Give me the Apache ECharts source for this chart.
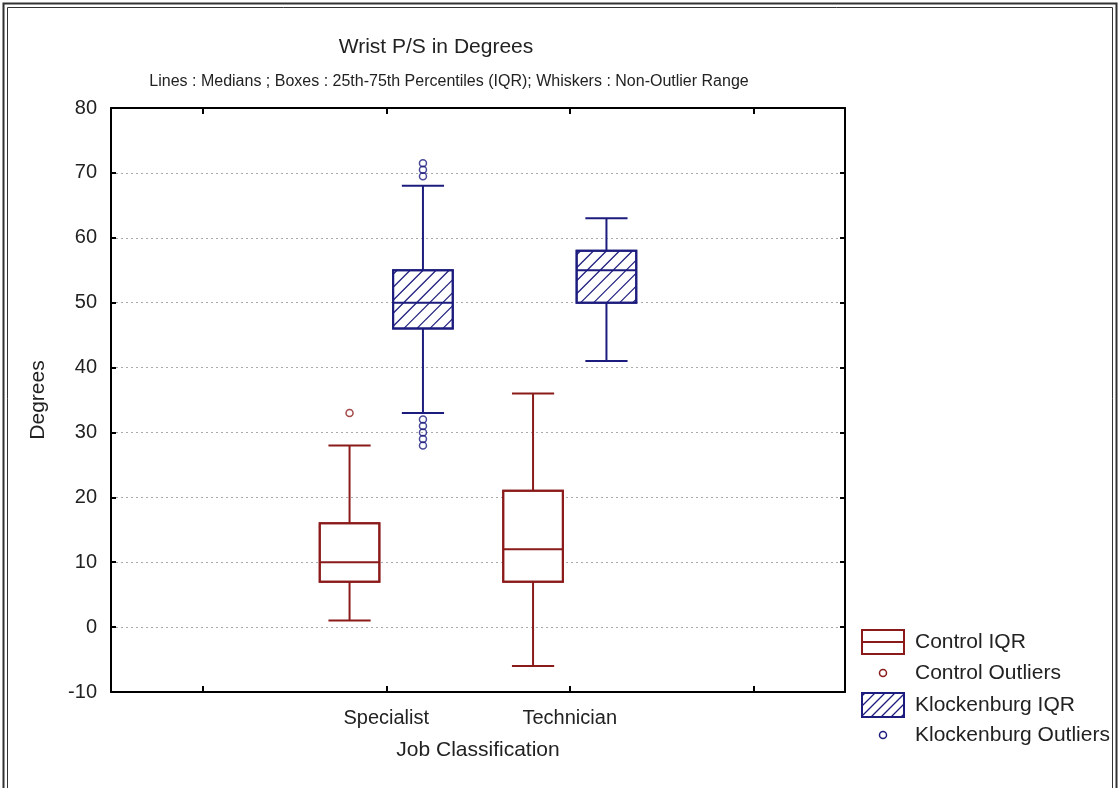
<!DOCTYPE html>
<html>
<head>
<meta charset="utf-8">
<script src="https://cdn.jsdelivr.net/npm/echarts@6/dist/echarts.min.js"></script>
<style>
  html, body { margin: 0; padding: 0; background: #fff; }
  #chart { width: 1120px; height: 788px; }
</style>
</head>
<body>
<div id="chart"></div>
<script>
// ---------------- data ----------------
const categories = ['Specialist', 'Technician'];

const controlLow    = [1, -6];
const controlQ1     = [7, 7];
const controlMedian = [10, 12];
const controlQ3     = [16, 21];
const controlHigh   = [28, 36];
const controlOutliers = [[0, 33]];   // [category index, value]

const klockLow    = [33, 41];
const klockQ1     = [46, 50];
const klockMedian = [50, 55];
const klockQ3     = [55, 58];
const klockHigh   = [68, 63];
const klockOutliers = [[0, 71.5], [0, 70.5], [0, 69.5], [0, 32], [0, 31], [0, 30], [0, 29], [0, 28]];

const yMin = -10, yMax = 80, yStep = 10;

// ---------------- style ----------------
const RED = '#8B1A1A';
const BLUE = '#1C1C7E';
const FONT = 'Liberation Sans, Arial, sans-serif';
const TEXT = '#222';
const OFFSET = 0.2;
const BOX_W = 0.325;
const CAP_W = 0.23;

function boxData(low, q1, med, q3, high) {
  return categories.map((c, i) => [i + 1, low[i], q1[i], med[i], q3[i], high[i]]);
}

function makeRender(offset, color, hatched) {
  return function (params, api) {
    const x = api.value(0) + offset;
    const pLow = api.coord([x, api.value(1)]);
    const pQ1 = api.coord([x, api.value(2)]);
    const pMed = api.coord([x, api.value(3)]);
    const pQ3 = api.coord([x, api.value(4)]);
    const pHigh = api.coord([x, api.value(5)]);
    const bw = api.size([BOX_W, 0])[0];
    const cw = api.size([CAP_W, 0])[0];
    const cx = pLow[0];
    const x0 = cx - bw / 2, x1 = cx + bw / 2;
    const yTop = pQ3[1], yBot = pQ1[1];
    const ls = { stroke: color, lineWidth: 2 };
    const children = [
      { type: 'line', shape: { x1: cx, y1: pHigh[1], x2: cx, y2: yTop }, style: ls },
      { type: 'line', shape: { x1: cx, y1: yBot, x2: cx, y2: pLow[1] }, style: ls },
      { type: 'line', shape: { x1: cx - cw / 2, y1: pHigh[1], x2: cx + cw / 2, y2: pHigh[1] }, style: ls },
      { type: 'line', shape: { x1: cx - cw / 2, y1: pLow[1], x2: cx + cw / 2, y2: pLow[1] }, style: ls },
      { type: 'rect', shape: { x: x0, y: yTop, width: bw, height: yBot - yTop }, style: { fill: '#fff', stroke: color, lineWidth: 2 } }
    ];
    if (hatched) {
      const s = 13;
      for (let c = x0 + yTop + 4; c < x1 + yBot; c += s) {
        const yLo = Math.max(yTop, c - x1);
        const yHi = Math.min(yBot, c - x0);
        if (yHi > yLo) {
          children.push({ type: 'line', shape: { x1: c - yLo, y1: yLo, x2: c - yHi, y2: yHi },
            style: { stroke: color, lineWidth: 1.2 } });
        }
      }
    }
    children.push({ type: 'line', shape: { x1: x0, y1: pMed[1], x2: x1, y2: pMed[1] }, style: ls });
    children.push({ type: 'rect', shape: { x: x0, y: yTop, width: bw, height: yBot - yTop }, style: { fill: null, stroke: color, lineWidth: 2 } });
    return { type: 'group', children };
  };
}

function outlierData(list, offset) {
  return list.map(d => [d[0] + 1 + offset, d[1]]);
}

const chart = echarts.init(document.getElementById('chart'), null, { renderer: 'canvas' });

const axisLineStyle = { color: '#000', width: 2 };

const LX = 862, LW = 42;
const legendRows = [642, 673, 705, 735];

function hatchIcon(x, y, w, h, color) {
  const arr = [];
  const s = 10;
  for (let c = x + y + 3; c < x + w + y + h; c += s) {
    const yLo = Math.max(y, c - (x + w));
    const yHi = Math.min(y + h, c - x);
    if (yHi > yLo) arr.push({ type: 'line', shape: { x1: c - yLo, y1: yLo, x2: c - yHi, y2: yHi }, style: { stroke: color, lineWidth: 1.2 } });
  }
  return arr;
}

const LFONT = '21px ' + FONT;
const legendGraphics = [
  { type: 'rect', shape: { x: LX, y: legendRows[0] - 12, width: LW, height: 24 }, style: { fill: '#fff', stroke: RED, lineWidth: 2 } },
  { type: 'line', shape: { x1: LX, y1: legendRows[0], x2: LX + LW, y2: legendRows[0] }, style: { stroke: RED, lineWidth: 2 } },
  { type: 'circle', shape: { cx: LX + 21, cy: legendRows[1], r: 3.5 }, style: { fill: null, stroke: RED, lineWidth: 1.5 } },
  ...hatchIcon(LX, legendRows[2] - 12, LW, 24, BLUE),
  { type: 'rect', shape: { x: LX, y: legendRows[2] - 12, width: LW, height: 24 }, style: { fill: null, stroke: BLUE, lineWidth: 2 } },
  { type: 'circle', shape: { cx: LX + 21, cy: legendRows[3], r: 3.5 }, style: { fill: null, stroke: BLUE, lineWidth: 1.5 } },
  { type: 'text', x: 915, y: legendRows[0], style: { text: 'Control IQR', font: LFONT, fill: TEXT, textVerticalAlign: 'middle' } },
  { type: 'text', x: 915, y: legendRows[1], style: { text: 'Control Outliers', font: LFONT, fill: TEXT, textVerticalAlign: 'middle' } },
  { type: 'text', x: 915, y: legendRows[2], style: { text: 'Klockenburg IQR', font: LFONT, fill: TEXT, textVerticalAlign: 'middle' } },
  { type: 'text', x: 915, y: legendRows[3], style: { text: 'Klockenburg Outliers', font: LFONT, fill: TEXT, textVerticalAlign: 'middle' } }
];

const option = {
  backgroundColor: '#fff',
  animation: false,
  grid: { left: 111, right: 275, top: 108, bottom: 96, show: false },
  xAxis: [
    {
      type: 'value', min: -0.5, max: 3.5, position: 'bottom',
      name: 'Job Classification', nameLocation: 'middle', nameGap: 48,
      nameTextStyle: { fontSize: 21, fontFamily: FONT, color: TEXT },
      axisLine: { show: true, onZero: false, lineStyle: axisLineStyle },
      axisTick: { show: true, inside: true, length: 6, customValues: [0, 1, 2, 3], lineStyle: { color: '#000', width: 2 } },
      axisLabel: {
        customValues: [1, 2], margin: 16, fontSize: 20, fontFamily: FONT, color: TEXT,
        formatter: v => categories[Math.round(v) - 1] || ''
      },
      splitLine: { show: false }
    },
    {
      type: 'value', min: -0.5, max: 3.5, position: 'top',
      axisLine: { show: true, onZero: false, lineStyle: axisLineStyle },
      axisTick: { show: true, inside: true, length: 6, customValues: [0, 1, 2, 3], lineStyle: { color: '#000', width: 2 } },
      axisLabel: { show: false },
      splitLine: { show: false }
    }
  ],
  yAxis: [
    {
      type: 'value', min: yMin, max: yMax, interval: yStep, position: 'left',
      name: 'Degrees', nameLocation: 'middle', nameGap: 62, nameRotate: 90,
      nameTextStyle: { fontSize: 21, fontFamily: FONT, color: TEXT },
      axisLine: { show: true, onZero: false, lineStyle: axisLineStyle },
      axisTick: { show: true, inside: true, length: 5, lineStyle: { color: '#000', width: 2 } },
      axisLabel: { margin: 14, fontSize: 20, fontFamily: FONT, color: TEXT },
      splitLine: { show: true, lineStyle: { type: [2, 3], color: '#aaa', width: 1 } }
    },
    {
      type: 'value', min: yMin, max: yMax, interval: yStep, position: 'right',
      axisLine: { show: true, onZero: false, lineStyle: axisLineStyle },
      axisTick: { show: true, inside: true, length: 5, lineStyle: { color: '#000', width: 2 } },
      axisLabel: { show: false },
      splitLine: { show: false }
    }
  ],
  series: [
    {
      name: 'Control IQR', type: 'custom', xAxisIndex: 0, yAxisIndex: 0,
      renderItem: makeRender(-OFFSET, RED, false),
      encode: { x: 0, y: [1, 2, 3, 4, 5] },
      data: boxData(controlLow, controlQ1, controlMedian, controlQ3, controlHigh),
      z: 3
    },
    {
      name: 'Klockenburg IQR', type: 'custom', xAxisIndex: 0, yAxisIndex: 0,
      renderItem: makeRender(OFFSET, BLUE, true),
      encode: { x: 0, y: [1, 2, 3, 4, 5] },
      data: boxData(klockLow, klockQ1, klockMedian, klockQ3, klockHigh),
      z: 3
    },
    {
      name: 'Control Outliers', type: 'scatter', xAxisIndex: 0, yAxisIndex: 0,
      symbol: 'circle', symbolSize: 7,
      itemStyle: { color: 'rgba(255,255,255,0)', borderColor: RED, borderWidth: 1.5 },
      data: outlierData(controlOutliers, -OFFSET), z: 4
    },
    {
      name: 'Klockenburg Outliers', type: 'scatter', xAxisIndex: 0, yAxisIndex: 0,
      symbol: 'circle', symbolSize: 7,
      itemStyle: { color: 'rgba(255,255,255,0)', borderColor: BLUE, borderWidth: 1.5 },
      data: outlierData(klockOutliers, OFFSET), z: 4
    }
  ],
  graphic: [
    { type: 'rect', shape: { x: 3.5, y: 3.5, width: 1113, height: 800 }, style: { fill: null, stroke: '#333', lineWidth: 2 } },
    { type: 'rect', shape: { x: 7.5, y: 7.5, width: 1105, height: 800 }, style: { fill: null, stroke: '#333', lineWidth: 1 } },
    { type: 'text', x: 436, y: 47, style: { text: 'Wrist P/S in Degrees', font: '21px ' + FONT, fill: TEXT, textAlign: 'center', textVerticalAlign: 'middle' } },
    { type: 'text', x: 449, y: 82, style: { text: 'Lines : Medians ; Boxes : 25th-75th Percentiles (IQR); Whiskers : Non-Outlier Range', font: '16px ' + FONT, fill: TEXT, textAlign: 'center', textVerticalAlign: 'middle' } },
    ...legendGraphics
  ]
};

chart.setOption(option);
</script>
</body>
</html>
